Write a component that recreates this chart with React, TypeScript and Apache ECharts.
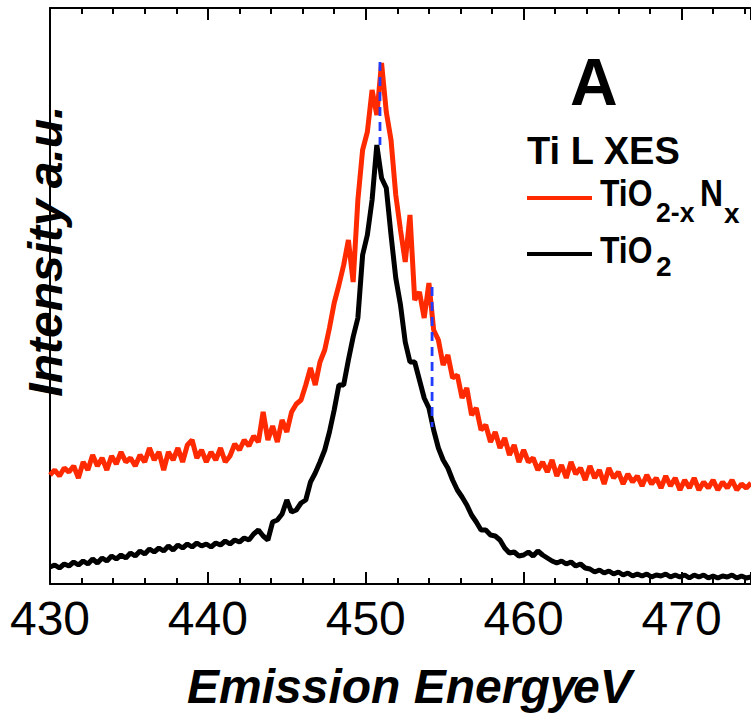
import React, { useEffect, useRef } from "react";
import * as echarts from "echarts";

// Emission energy grid (eV)
const energy = [430.0, 430.3, 430.6, 430.9, 431.2, 431.5, 431.8, 432.1, 432.4, 432.7, 433.0, 433.3, 433.6, 433.9,
  434.2, 434.5, 434.8, 435.1, 435.4, 435.7, 436.0, 436.3, 436.6, 436.9, 437.2, 437.5, 437.8, 438.1,
  438.4, 438.7, 439.0, 439.3, 439.6, 439.9, 440.2, 440.5, 440.8, 441.1, 441.4, 441.7, 442.0, 442.3,
  442.6, 442.9, 443.2, 443.5, 443.8, 444.1, 444.4, 444.7, 445.0, 445.3, 445.6, 445.9, 446.2, 446.5,
  446.8, 447.1, 447.4, 447.7, 448.0, 448.3, 448.6, 448.9, 449.2, 449.5, 449.8, 450.1, 450.4, 450.7,
  451.0, 451.3, 451.6, 451.9, 452.2, 452.5, 452.8, 453.1, 453.4, 453.7, 454.0, 454.3, 454.6, 454.9,
  455.2, 455.5, 455.8, 456.1, 456.4, 456.7, 457.0, 457.3, 457.6, 457.9, 458.2, 458.5, 458.8, 459.1,
  459.4, 459.7, 460.0, 460.3, 460.6, 460.9, 461.2, 461.5, 461.8, 462.1, 462.4, 462.7, 463.0, 463.3,
  463.6, 463.9, 464.2, 464.5, 464.8, 465.1, 465.4, 465.7, 466.0, 466.3, 466.6, 466.9, 467.2, 467.5,
  467.8, 468.1, 468.4, 468.7, 469.0, 469.3, 469.6, 469.9, 470.2, 470.5, 470.8, 471.1, 471.4, 471.7,
  472.0, 472.3, 472.6, 472.9, 473.2, 473.5, 473.8, 474.1, 474.4];

// TiO2-xNx intensity (a.u.)
const tioxnx = [111, 116, 110, 118, 114, 120, 108, 124, 116, 131, 120, 128, 116, 130,
  122, 134, 124, 128, 120, 131, 124, 138, 126, 134, 116, 134, 126, 138,
  124, 141, 146, 128, 136, 124, 134, 126, 138, 124, 130, 142, 136, 146,
  140, 150, 144, 174, 146, 160, 144, 166, 154, 174, 182, 186, 201, 218,
  201, 224, 236, 258, 283, 301, 321, 346, 304, 386, 436, 454, 496, 471,
  523, 474, 446, 391, 356, 324, 371, 286, 294, 268, 303, 256, 246, 221,
  231, 208, 211, 188, 198, 171, 178, 156, 161, 144, 154, 138, 148, 131,
  141, 124, 136, 124, 128, 116, 124, 114, 126, 110, 121, 108, 124, 112,
  118, 106, 120, 108, 116, 102, 118, 108, 114, 102, 112, 104, 110, 100,
  111, 102, 108, 98, 110, 100, 108, 96, 106, 98, 108, 96, 104, 98,
  106, 96, 104, 98, 106, 96, 102, 98, 103];

// TiO2 intensity (a.u.)
const tio2 = [19, 21, 18, 22, 20, 24, 21, 25, 22, 27, 23, 28, 25, 30,
  27, 31, 28, 33, 30, 35, 32, 37, 34, 38, 35, 40, 36, 41,
  38, 42, 39, 43, 40, 42, 39, 43, 41, 45, 42, 46, 44, 48,
  46, 52, 56, 50, 46, 64, 66, 72, 86, 74, 76, 83, 86, 104,
  113, 124, 136, 154, 176, 201, 201, 226, 249, 268, 331, 351, 386, 441,
  408, 398, 351, 308, 281, 244, 224, 224, 206, 188, 178, 156, 138, 126,
  118, 106, 96, 89, 81, 71, 64, 56, 56, 51, 50, 46, 38, 33,
  34, 30, 31, 34, 30, 35, 31, 28, 25, 23, 25, 22, 24, 20,
  22, 18, 17, 14, 16, 13, 15, 12, 14, 11, 13, 10, 12, 10,
  12, 9, 11, 10, 12, 9, 11, 9, 11, 8, 11, 9, 11, 8,
  10, 8, 10, 9, 11, 8, 10, 8, 9];

// Blue dashed marker lines
const dashEnergy = [450.9, 454.2];
const dashTop = [524, 299];
const dashBottom = [441, 159];

const xTicks = [430, 440, 450, 460, 470];

const FONT = "Liberation Sans, Arial, Helvetica, sans-serif";

export default function App() {
  const ref = useRef<HTMLDivElement>(null);

  useEffect(() => {
    document.body.style.margin = "0";
    if (!ref.current) return;
    const chart = echarts.init(ref.current, null, { renderer: "svg" });

    const red = energy.map((e, i) => [e, tioxnx[i]]);
    const blk = energy.map((e, i) => [e, tio2[i]]);
    const dashSeries = dashEnergy.map((e, i) => ({
      type: "line",
      data: [[e, dashTop[i]], [e, dashBottom[i]]],
      showSymbol: false,
      symbol: "none",
      lineStyle: { color: "#1f3cff", width: 2.8, type: [9, 6] },
      z: 5,
    }));

    const txt = (text: string, x: number, y: number, size: number, extra: any = {}) => ({
      type: "text",
      x,
      y,
      scaleX: extra.scaleX || 1,
      scaleY: extra.scaleY || 1,
      style: {
        text,
        fill: "#000",
        font: `${extra.italic ? "italic " : ""}${extra.bold === false ? "normal" : "bold"} ${size}px ${FONT}`,
        align: extra.align || "left",
        verticalAlign: "middle",
      },
      rotation: extra.rotation || 0,
      z: 10,
    });

    chart.setOption({
      animation: false,
      backgroundColor: "#fff",
      grid: { left: 50, right: 0, top: 8, bottom: 135, containLabel: false },
      xAxis: [
        {
          type: "value",
          min: 430,
          max: 474.4,
          interval: 10,
          axisLine: { show: true, onZero: false, lineStyle: { color: "#000", width: 2 } },
          axisTick: { show: true, inside: true, length: 12, lineStyle: { color: "#000", width: 2 } },
          minorTick: { show: true, splitNumber: 5, length: 6, lineStyle: { color: "#000", width: 2 } },
          axisLabel: {
            show: true,
            margin: 10,
            fontSize: 48,
            fontFamily: FONT,
            color: "#000",
            showMaxLabel: false,
            formatter: (v: number) => (xTicks.indexOf(v) >= 0 ? String(v) : ""),
          },
          splitLine: { show: false },
        },
        {
          type: "value",
          position: "top",
          min: 430,
          max: 474.4,
          interval: 10,
          axisLine: { show: true, onZero: false, lineStyle: { color: "#000", width: 2 } },
          axisTick: { show: true, inside: true, length: 12, lineStyle: { color: "#000", width: 2 } },
          minorTick: { show: true, splitNumber: 5, length: 6, lineStyle: { color: "#000", width: 2 } },
          axisLabel: { show: false },
          splitLine: { show: false },
        },
      ],
      yAxis: {
        type: "value",
        min: 2,
        max: 578,
        axisLine: { show: true, onZero: false, lineStyle: { color: "#000", width: 2 } },
        axisTick: { show: false },
        axisLabel: { show: false },
        splitLine: { show: false },
      },
      series: [
        {
          name: "TiO2-xNx",
          type: "line",
          data: red,
          showSymbol: false,
          symbol: "none",
          lineStyle: { color: "#ff2a00", width: 5 },
          z: 2,
        },
        {
          name: "TiO2",
          type: "line",
          data: blk,
          showSymbol: false,
          symbol: "none",
          lineStyle: { color: "#000", width: 5 },
          z: 3,
        },
        ...dashSeries,
      ],
      graphic: [
        txt("A", 570, 82, 66),
        txt("Ti L XES", 527, 151, 38),
        { type: "line", shape: { x1: 527, y1: 198, x2: 592, y2: 198 }, style: { stroke: "#ff2a00", lineWidth: 4 } },
        txt("TiO", 600, 193, 37, { scaleX: 0.86 }),
        txt("2-x", 656, 212, 28, { scaleX: 0.95 }),
        txt("N", 700, 193, 37, { scaleX: 0.86 }),
        txt("x", 724, 213, 28),
        { type: "line", shape: { x1: 527, y1: 254, x2: 592, y2: 254 }, style: { stroke: "#000", lineWidth: 4 } },
        txt("TiO", 600, 250, 37, { scaleX: 0.86 }),
        txt("2", 656, 266, 28),
        txt("Emission Energy", 187, 686, 48, { italic: true }),
        txt("eV", 573, 686, 48, { italic: true }),
        txt("Intensity", 45, 298, 48, { italic: true, align: "center", rotation: Math.PI / 2 }),
        txt("a.u.", 45, 147, 48, { italic: true, align: "center", rotation: Math.PI / 2 }),
      ],
    });

    return () => chart.dispose();
  }, []);

  return <div ref={ref} style={{ width: 751, height: 719 }} />;
}
